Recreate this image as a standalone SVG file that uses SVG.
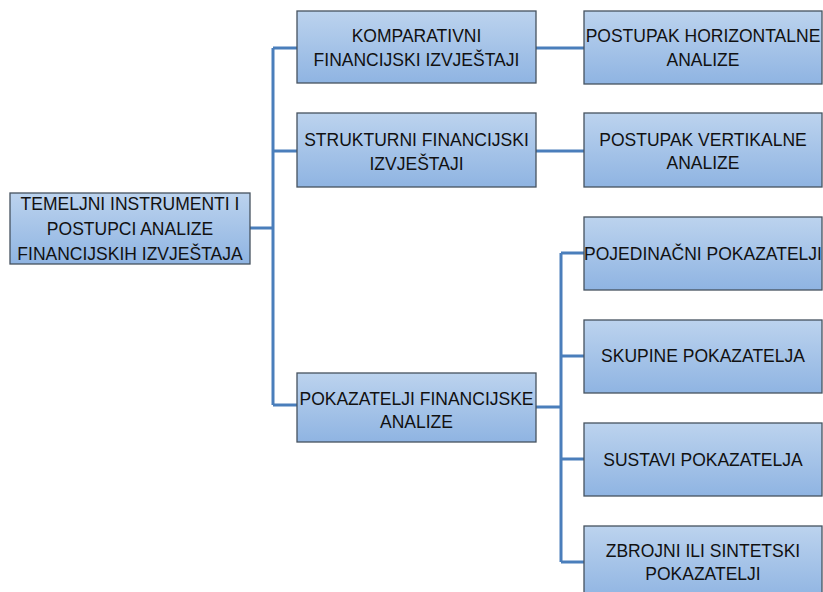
<svg xmlns="http://www.w3.org/2000/svg" width="823" height="592" viewBox="0 0 823 592">
<defs>
<linearGradient id="g" x1="0" y1="0" x2="0" y2="1">
<stop offset="0" stop-color="#bcd3ee"/>
<stop offset="1" stop-color="#8fb4e2"/>
</linearGradient>
</defs>
<style>
.box{fill:url(#g);stroke:#46525f;stroke-width:1.3}
.t{font-family:"Liberation Sans",Arial,sans-serif;font-size:17.5px;fill:#111;text-anchor:middle}
.c{fill:none;stroke:#4a7ebb;stroke-width:3}
</style>
<rect width="823" height="592" fill="#fff"/>
<g id="connectors">
<path class="c" d="M250 228 H273 M273 48 V405 M273 48 H297 M273 151 H297 M273 405 H297"/>
<path class="c" d="M536 48 H584 M536 151 H584"/>
<path class="c" d="M536 407 H561 M561 253 V562 M561 253 H584 M561 356 H584 M561 459 H584 M561 562 H584"/>
</g>
<g id="root">
<rect class="box" x="10" y="193" width="240" height="71"/>
<text class="t" x="130" y="210">TEMELJNI INSTRUMENTI I</text>
<text class="t" x="130" y="235">POSTUPCI ANALIZE</text>
<text class="t" x="130" y="260">FINANCIJSKIH IZVJEŠTAJA</text>
</g>
<g id="komparativni">
<rect class="box" x="297" y="11" width="239" height="72"/>
<text class="t" x="416.5" y="42">KOMPARATIVNI</text>
<text class="t" x="416.5" y="66">FINANCIJSKI IZVJEŠTAJI</text>
</g>
<g id="strukturni">
<rect class="box" x="297" y="113" width="239" height="74"/>
<text class="t" x="416.5" y="146">STRUKTURNI FINANCIJSKI</text>
<text class="t" x="416.5" y="170">IZVJEŠTAJI</text>
</g>
<g id="pokazatelji">
<rect class="box" x="297" y="373" width="239" height="69"/>
<text class="t" x="416.5" y="405">POKAZATELJI FINANCIJSKE</text>
<text class="t" x="416.5" y="428">ANALIZE</text>
</g>
<g id="horizontalne">
<rect class="box" x="584" y="11" width="238" height="73"/>
<text class="t" x="703" y="42">POSTUPAK HORIZONTALNE</text>
<text class="t" x="703" y="66">ANALIZE</text>
</g>
<g id="vertikalne">
<rect class="box" x="584" y="113" width="238" height="74"/>
<text class="t" x="703" y="146">POSTUPAK VERTIKALNE</text>
<text class="t" x="703" y="169">ANALIZE</text>
</g>
<g id="pojedinacni">
<rect class="box" x="584" y="217" width="238" height="73"/>
<text class="t" x="703" y="260">POJEDINAČNI POKAZATELJI</text>
</g>
<g id="skupine">
<rect class="box" x="584" y="320" width="238" height="73"/>
<text class="t" x="703" y="362">SKUPINE POKAZATELJA</text>
</g>
<g id="sustavi">
<rect class="box" x="584" y="423" width="238" height="73"/>
<text class="t" x="703" y="466">SUSTAVI POKAZATELJA</text>
</g>
<g id="zbrojni">
<rect class="box" x="584" y="526" width="238" height="74"/>
<text class="t" x="703" y="557">ZBROJNI ILI SINTETSKI</text>
<text class="t" x="703" y="580">POKAZATELJI</text>
</g>
</svg>
